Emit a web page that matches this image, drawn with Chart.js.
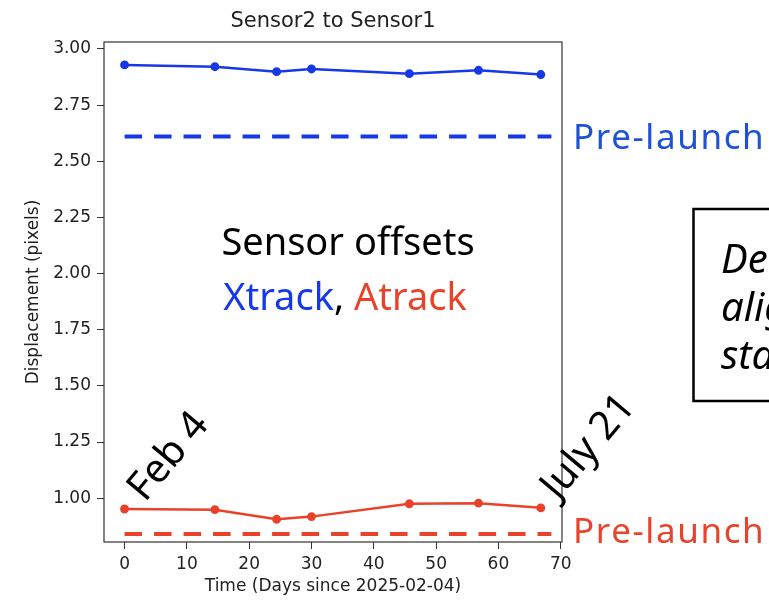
<!DOCTYPE html>
<html>
<head>
<meta charset="utf-8">
<script src="https://cdn.jsdelivr.net/npm/chart.js@4.4.1/dist/chart.umd.min.js"></script>
<style>
  html, body { margin: 0; padding: 0; background: #fff; }
  canvas { display: block; }
</style>
</head>
<body>
<canvas id="offsets" width="769" height="600"></canvas>
<script>
// ───── Sensor2 → Sensor1 offset chart ───────────────────────────────────────
// Values.
const days = [0, 14.5, 24.4, 30, 45.7, 56.8, 66.8];
const xtrackOffsets = [2.929, 2.921, 2.899, 2.911, 2.890, 2.905, 2.886];
const atrackOffsets = [0.952, 0.949, 0.906, 0.918, 0.975, 0.978, 0.957];

// Pre-launch reference levels (drawn dashed across the window).
const prelaunchDays = [0, 68.5];
const xtrackPrelaunch = [2.61, 2.61];
const atrackPrelaunch = [0.841, 0.841];

const xTickValues = [0, 10, 20, 30, 40, 50, 60, 70];
const yTickValues = [1.00, 1.25, 1.50, 1.75, 2.00, 2.25, 2.50, 2.75, 3.00];
const xLimits = [-3.3, 70.2];
const yLimits = [0.805, 3.031];

const BLUE = '#1738e6';
const RED = '#ea412a';
const BLUE_TEXT = '#1d52d6';
const RED_TEXT = '#e8432b';
const AXIS_FONT = { family: '"DejaVu Sans"', size: 17 };

const toPoints = (xs, ys) => xs.map((x, i) => ({ x, y: ys[i] }));

// Frame, title and the slide annotations around the plot.
const annotations = {
  id: 'annotations',
  beforeDatasetsDraw(chart) {
    const { ctx, chartArea: a } = chart;
    ctx.save();
    ctx.strokeStyle = '#333';
    ctx.lineWidth = 1.2;
    ctx.strokeRect(a.left, a.top, a.right - a.left, a.bottom - a.top);
    ctx.restore();
  },
  afterDraw(chart) {
    const { ctx, chartArea: a, scales: { y } } = chart;
    ctx.save();

    // Title, centred over the axes.
    ctx.fillStyle = '#222';
    ctx.font = '21px "DejaVu Sans"';
    ctx.textAlign = 'center';
    ctx.textBaseline = 'middle';
    ctx.fillText('Sensor2 to Sensor1', (a.left + a.right) / 2, 22);

    // "Pre-launch" labels next to the dashed lines.
    ctx.textAlign = 'left';
    ctx.textBaseline = 'alphabetic';
    ctx.font = '35px "Noto Sans"';
    ctx.letterSpacing = '1.6px';
    ctx.fillStyle = BLUE_TEXT;
    ctx.fillText('Pre-launch', a.right + 11, y.getPixelForValue(xtrackPrelaunch[0]) + 12);
    ctx.fillStyle = RED_TEXT;
    ctx.fillText('Pre-launch', a.right + 11, y.getPixelForValue(atrackPrelaunch[0]) + 9);
    ctx.letterSpacing = '0px';

    // Legend-like caption inside the plot.
    ctx.font = '38px "Noto Sans"';
    ctx.textAlign = 'center';
    ctx.fillStyle = '#000';
    ctx.fillText('Sensor offsets', 348, 255);

    const parts = [['Xtrack', BLUE], [', ', '#000'], ['Atrack', RED]];
    const total = parts.reduce((w, [t]) => w + ctx.measureText(t).width, 0);
    let cx = 345 - total / 2;
    ctx.textAlign = 'left';
    parts.forEach(([t, c]) => {
      ctx.fillStyle = c;
      ctx.fillText(t, cx, 310);
      cx += ctx.measureText(t).width;
    });

    // Rotated date markers.
    ctx.fillStyle = '#000';
    ctx.font = '40px "Noto Sans"';
    [['Feb 4', 145, 503], ['July 21', 558, 501]].forEach(([t, px, py]) => {
      ctx.save();
      ctx.translate(px, py);
      ctx.rotate(-50 * Math.PI / 180);
      ctx.fillText(t, 0, 0);
      ctx.restore();
    });

    // Boxed note, cut off by the right edge.
    ctx.strokeStyle = '#000';
    ctx.lineWidth = 2.5;
    ctx.strokeRect(693.5, 209, 200, 192);
    ctx.font = 'italic 40px "Noto Sans"';
    ctx.fillText('Detector', 721, 273);
    ctx.fillText('alignment', 721, 321);
    ctx.fillText('stable', 721, 369);

    ctx.restore();
  },
};

new Chart(document.getElementById('offsets'), {
  type: 'line',
  data: {
    datasets: [
      {
        label: 'Xtrack',
        data: toPoints(days, xtrackOffsets),
        borderColor: BLUE,
        backgroundColor: BLUE,
        borderWidth: 2.5,
        pointRadius: 3.2,
        tension: 0,
      },
      {
        label: 'Atrack',
        data: toPoints(days, atrackOffsets),
        borderColor: RED,
        backgroundColor: RED,
        borderWidth: 2.5,
        pointRadius: 3.2,
        tension: 0,
      },
      {
        label: 'Xtrack pre-launch',
        data: toPoints(prelaunchDays, xtrackPrelaunch),
        borderColor: BLUE,
        borderWidth: 4,
        borderDash: [17.5, 12],
        pointRadius: 0,
      },
      {
        label: 'Atrack pre-launch',
        data: toPoints(prelaunchDays, atrackPrelaunch),
        borderColor: RED,
        borderWidth: 4,
        borderDash: [17.5, 12],
        pointRadius: 0,
      },
    ],
  },
  options: {
    responsive: false,
    animation: false,
    devicePixelRatio: 1,
    layout: { padding: { top: 42, right: 207, left: 0, bottom: 0 } },
    plugins: {
      legend: { display: false },
      tooltip: { enabled: false },
    },
    scales: {
      x: {
        type: 'linear',
        min: xLimits[0],
        max: xLimits[1],
        afterBuildTicks: (s) => { s.ticks = xTickValues.map((v) => ({ value: v })); },
        afterFit: (s) => { s.height = 58; },
        grid: { drawOnChartArea: false, tickLength: 7, color: '#333' },
        border: { display: false },
        ticks: { font: AXIS_FONT, color: '#222', padding: 5, maxRotation: 0 },
        title: {
          display: true,
          text: 'Time (Days since 2025-02-04)',
          font: AXIS_FONT,
          color: '#222',
          padding: { top: 0, bottom: 3 },
        },
      },
      y: {
        min: yLimits[0],
        max: yLimits[1],
        afterBuildTicks: (s) => { s.ticks = yTickValues.map((v) => ({ value: v })); },
        afterFit: (s) => { s.width = 104; },
        grid: { drawOnChartArea: false, tickLength: 7, color: '#333' },
        border: { display: false },
        ticks: {
          font: AXIS_FONT,
          color: '#222',
          padding: 6,
          callback: (v) => Number(v).toFixed(2),
        },
        title: {
          display: true,
          text: 'Displacement (pixels)',
          font: AXIS_FONT,
          color: '#222',
          padding: { top: 23, bottom: 0 },
        },
      },
    },
  },
  plugins: [annotations],
});
</script>
</body>
</html>
